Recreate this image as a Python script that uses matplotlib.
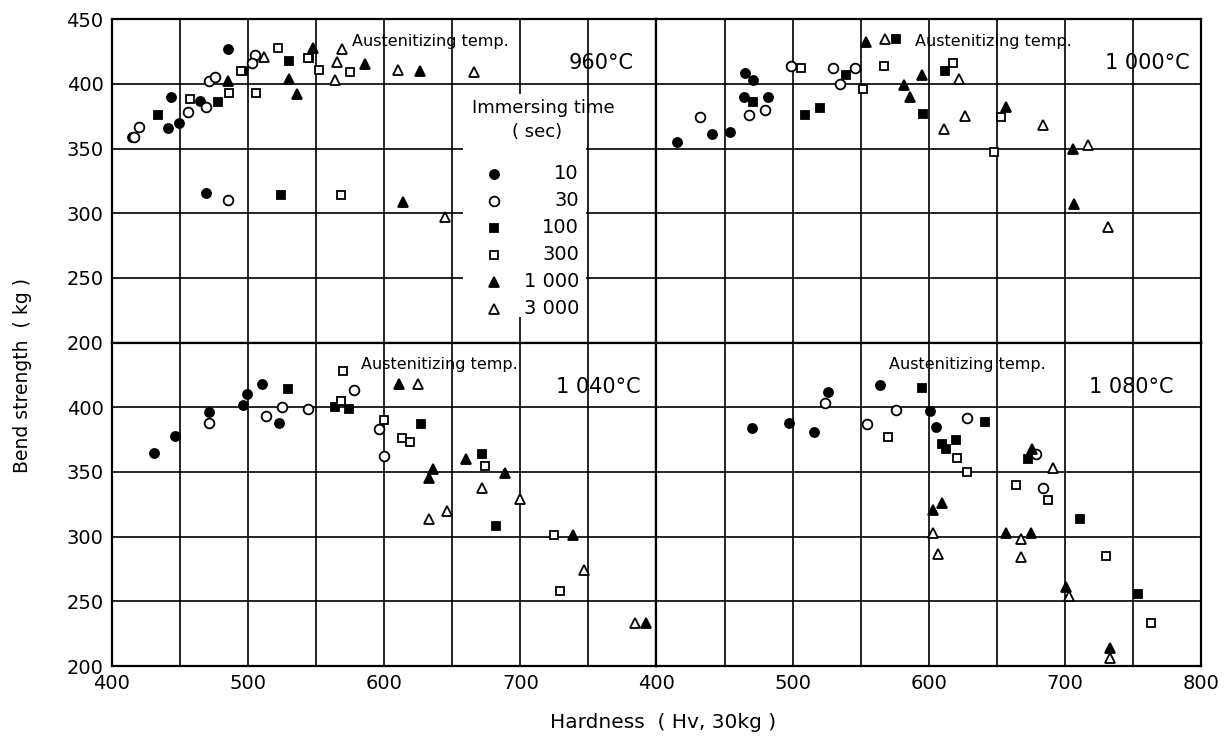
import matplotlib
matplotlib.use("Agg")
import matplotlib.pyplot as plt
from matplotlib.patches import Rectangle

plt.rcParams['font.family'] = ['DejaVu Sans']

times = [10, 30, 100, 300, 1000, 3000]
time_labels = ['10', '30', '100', '300', '1 000', '3 000']
markers = ['o', 'o', 's', 's', '^', '^']
filled = [True, False, True, False, True, False]

# 960 C  (hardness, bend strength) per immersing time
hv_960 = {
    10: [485, 443, 441, 449, 465, 469, 415],
    30: [420, 416, 456, 469, 471, 476, 505, 503, 485],
    100: [434, 478, 496, 530, 545, 524],
    300: [457, 486, 506, 522, 495, 552, 575, 544, 568],
    1000: [485, 530, 536, 548, 586, 626, 614],
    3000: [512, 565, 569, 564, 610, 666, 645],
}
bs_960 = {
    10: [427, 390, 366, 370, 387, 316, 359],
    30: [367, 359, 378, 382, 402, 405, 422, 416, 310],
    100: [376, 386, 410, 418, 420, 314],
    300: [388, 393, 393, 428, 410, 411, 409, 420, 314],
    1000: [402, 404, 392, 428, 415, 410, 309],
    3000: [421, 417, 427, 403, 411, 409, 297],
}

# 1000 C
hv_1000 = {
    10: [415, 441, 454, 465, 471, 464, 482],
    30: [432, 468, 480, 499, 530, 546, 535],
    100: [471, 509, 520, 539, 596, 612, 576],
    300: [506, 552, 567, 618, 653, 648],
    1000: [554, 582, 586, 595, 657, 706, 707],
    3000: [568, 622, 627, 611, 684, 717, 732],
}
bs_1000 = {
    10: [355, 361, 363, 408, 403, 390, 390],
    30: [374, 376, 380, 414, 412, 412, 400],
    100: [386, 376, 381, 407, 377, 410, 435],
    300: [412, 396, 414, 416, 374, 347],
    1000: [432, 399, 390, 407, 382, 350, 307],
    3000: [435, 404, 375, 365, 368, 353, 289],
}

# 1040 C
hv_1040 = {
    10: [431, 446, 471, 496, 499, 510, 523],
    30: [471, 513, 525, 544, 578, 596, 600],
    100: [529, 564, 574, 568, 627, 672, 682],
    300: [570, 568, 600, 613, 619, 674, 725, 729],
    1000: [611, 636, 633, 660, 689, 739, 792],
    3000: [625, 633, 646, 672, 700, 747, 784],
}
bs_1040 = {
    10: [365, 378, 396, 402, 410, 418, 388],
    30: [388, 393, 400, 399, 413, 383, 362],
    100: [414, 400, 399, 405, 387, 364, 308],
    300: [428, 405, 390, 376, 373, 355, 301, 258],
    1000: [418, 352, 345, 360, 349, 301, 233],
    3000: [418, 314, 320, 338, 329, 274, 233],
}

# 1080 C
hv_1080 = {
    10: [470, 497, 516, 526, 564, 601, 605],
    30: [524, 555, 576, 628, 679, 684],
    100: [595, 641, 610, 613, 620, 673, 711, 754],
    300: [570, 621, 628, 664, 688, 730, 763],
    1000: [603, 610, 657, 675, 676, 701, 733],
    3000: [603, 607, 668, 668, 691, 703, 733],
}
bs_1080 = {
    10: [384, 388, 381, 412, 417, 397, 385],
    30: [403, 387, 398, 392, 364, 338],
    100: [415, 389, 372, 368, 375, 360, 314, 256],
    300: [377, 361, 350, 340, 328, 285, 233],
    1000: [321, 326, 303, 303, 368, 261, 214],
    3000: [303, 287, 298, 284, 353, 254, 206],
}

panels = [
    ('960°C', hv_960, bs_960),
    ('1 000°C', hv_1000, bs_1000),
    ('1 040°C', hv_1040, bs_1040),
    ('1 080°C', hv_1080, bs_1080),
]
title_x = [576, 590, 583, 571]
temp_x = [783, 792, 788, 780]


def draw_marker(ax, x, y, i, zorder=5):
    ms = 6 if markers[i] == 's' else 7
    if markers[i] == 'o' and filled[i]:
        ms = 6.5
    ax.plot(x, y, linestyle='none', marker=markers[i], markersize=ms,
            markerfacecolor='black' if filled[i] else 'white',
            markeredgecolor='black', markeredgewidth=1.3, zorder=zorder,
            clip_on=False)


fig = plt.figure(figsize=(12.32, 7.36), dpi=100)
gs = fig.add_gridspec(2, 2, left=0.0909, right=0.9748, top=0.974, bottom=0.095,
                      wspace=0, hspace=0)

for k, (temp, hv, bs) in enumerate(panels):
    ax = fig.add_subplot(gs[k // 2, k % 2])
    ax.set_xlim(400, 800)
    ax.set_ylim(200, 450)
    ax.set_xticks(range(400, 801, 100))
    ax.set_xticks(range(450, 800, 100), minor=True)
    ax.set_yticks(range(200, 451, 50))
    ax.grid(True, which='both', color='black', linewidth=1.2)
    ax.set_axisbelow(True)
    ax.tick_params(which='both', length=0, labelsize=14, pad=6)
    for sp in ax.spines.values():
        sp.set_linewidth(1.6)

    row, col = k // 2, k % 2
    if col == 1:
        ax.set_yticklabels([])
    elif row == 1:
        ax.set_yticklabels(['200', '250', '300', '350', '400', ''])
    if row == 0:
        ax.set_xticklabels([])
    elif col == 0:
        ax.set_xticklabels(['400', '500', '600', '700', ''])

    for i, t in enumerate(times):
        draw_marker(ax, hv[t], bs[t], i)

    ax.text(title_x[k], 433, 'Austenitizing temp.', fontsize=11.5,
            ha='left', va='center', zorder=6)
    ax.text(temp_x[k], 416, temp, fontsize=15, ha='right', va='center',
            zorder=6)

    if k == 0:
        ax.add_patch(Rectangle((658, 220), 90, 172, facecolor='white',
                               edgecolor='none', zorder=3))
        ax.text(717, 381, 'Immersing time', fontsize=13, ha='center',
                va='center', zorder=6)
        ax.text(712, 363, '( sec)', fontsize=13, ha='center', va='center',
                zorder=6)
        for i, lab in enumerate(time_labels):
            y = 330.5 - i * 20.9
            draw_marker(ax, [681], [y], i, zorder=6)
            ax.text(743, y, lab, fontsize=14, ha='right', va='center',
                    zorder=6)

fig.text(0.018, 0.49, 'Bend strength  ( kg )', rotation=90, fontsize=13.5,
         ha='center', va='center')
fig.text(0.538, 0.019, 'Hardness  ( Hv, 30kg )', fontsize=14.5,
         ha='center', va='center')

fig.savefig('out.png', dpi=100)
